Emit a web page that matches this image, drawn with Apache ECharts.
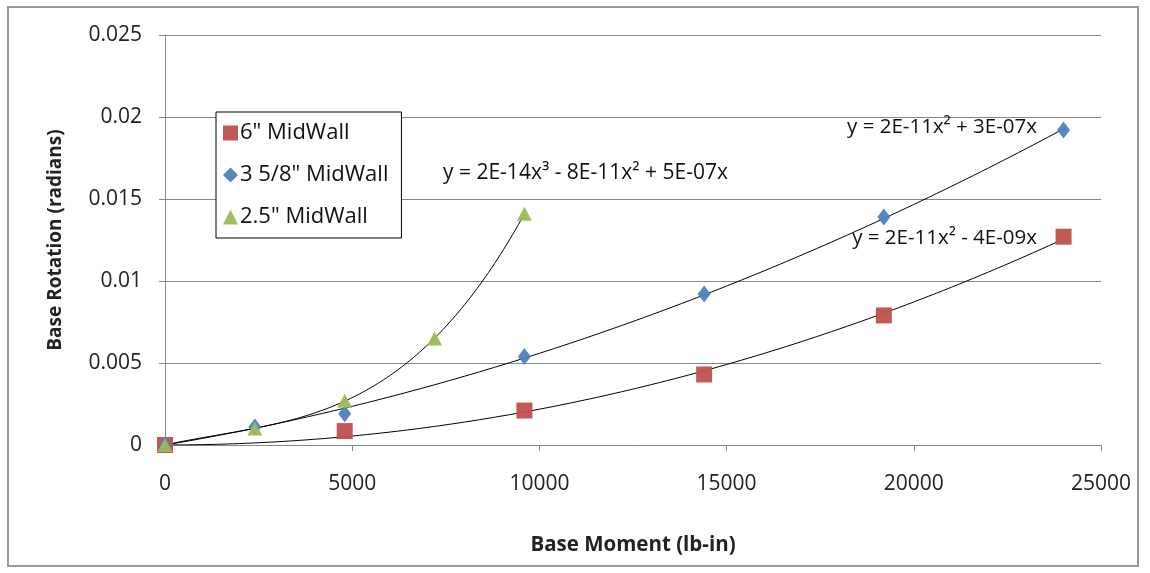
<!DOCTYPE html>
<html>
<head>
<meta charset="utf-8">
<script src="https://cdn.jsdelivr.net/npm/echarts@6/dist/echarts.min.js"></script>
<style>html,body{margin:0;padding:0;background:#fff}#c{width:1150px;height:573px}</style>
</head>
<body>
<div id="c"></div>
<script>
// ---- data ----
const seriesNames = ['6" MidWall', '3 5/8" MidWall', '2.5" MidWall'];
const x6 = [0, 4800, 9600, 14400, 19200, 24000];
const y6 = [0, 0.00085, 0.0021, 0.0043, 0.0079, 0.0127];
const x358 = [0, 2400, 4800, 9600, 14400, 19200, 24000];
const y358 = [0, 0.0011, 0.0019, 0.0054, 0.0092, 0.0139, 0.0192];
const x25 = [0, 2400, 4800, 7200, 9600];
const y25 = [0, 0.0010, 0.0027, 0.0065, 0.0141];
const trendDegrees = [2, 2, 3];
const trendLabels = ['y = 2E-11x\u00B2 - 4E-09x', 'y = 2E-11x\u00B2 + 3E-07x', 'y = 2E-14x\u00B3 - 8E-11x\u00B2 + 5E-07x'];
const xTicks = [0, 5000, 10000, 15000, 20000, 25000];
const yTicks = [0, 0.005, 0.01, 0.015, 0.02, 0.025];

// least-squares polynomial fit through origin (trendline, as in the source chart)
function fitThroughOrigin(xs, ys, deg) {
  const s = 1000;
  const n = deg;
  const A = Array.from({length: n}, () => new Array(n + 1).fill(0));
  for (let k = 0; k < xs.length; k++) {
    const x = xs[k] / s;
    const b = [];
    for (let i = 1; i <= n; i++) b.push(Math.pow(x, i));
    for (let i = 0; i < n; i++) {
      for (let j = 0; j < n; j++) A[i][j] += b[i] * b[j];
      A[i][n] += b[i] * ys[k];
    }
  }
  for (let i = 0; i < n; i++) {
    let p = i;
    for (let r = i + 1; r < n; r++) if (Math.abs(A[r][i]) > Math.abs(A[p][i])) p = r;
    [A[i], A[p]] = [A[p], A[i]];
    for (let r = 0; r < n; r++) {
      if (r === i) continue;
      const f = A[r][i] / A[i][i];
      for (let c = i; c <= n; c++) A[r][c] -= f * A[i][c];
    }
  }
  const coef = A.map((row, i) => row[n] / row[i]);
  return x => coef.reduce((acc, c, i) => acc + c * Math.pow(x / s, i + 1), 0);
}
function trend(xs, ys, deg) {
  const f = fitThroughOrigin(xs, ys, deg);
  const xmax = Math.max(...xs);
  const pts = [];
  const steps = 120;
  for (let i = 0; i <= steps; i++) {
    const x = xmax * i / steps;
    pts.push([x, f(x)]);
  }
  return pts;
}
const pairs = (xs, ys) => xs.map((x, i) => [x, ys[i]]);

const FONT = 'Open Sans';
const colors = ['#C0504D', '#4F81BD', '#9BBB59'];
const symbols = ['rect', 'diamond', 'triangle'];
const sizes = [[16, 16], [13, 17], [15, 14]];
const dataSets = [[x6, y6], [x358, y358], [x25, y25]];

const series = [];
dataSets.forEach((d, i) => {
  series.push({
    name: seriesNames[i] + ' trend', type: 'line', data: trend(d[0], d[1], trendDegrees[i]),
    showSymbol: false, silent: true, smooth: false,
    lineStyle: {color: '#000', width: 1}, z: 2
  });
});
dataSets.forEach((d, i) => {
  series.push({
    name: seriesNames[i], type: 'scatter', data: pairs(d[0], d[1]),
    symbol: symbols[i], symbolSize: sizes[i],
    itemStyle: {color: colors[i], opacity: 0.95}, z: 3
  });
});

const chart = echarts.init(document.getElementById('c'));
chart.setOption({
  animation: false,
  backgroundColor: '#fff',
  grid: {left: 165, right: 49, top: 35, bottom: 128},
  xAxis: {
    type: 'value', min: xTicks[0], max: xTicks[xTicks.length - 1], interval: 5000,
    name: 'Base Moment (lb-in)', nameLocation: 'middle', nameGap: 90,
    nameTextStyle: {fontFamily: FONT, fontWeight: 'bold', fontSize: 20.5, color: '#222'},
    axisLine: {lineStyle: {color: '#868686'}},
    axisTick: {show: true, length: 6, lineStyle: {color: '#868686'}},
    axisLabel: {fontFamily: FONT, fontSize: 21, color: '#222', margin: 29, formatter: v => String(v)},
    splitLine: {show: false}
  },
  yAxis: {
    type: 'value', min: yTicks[0], max: yTicks[yTicks.length - 1], interval: 0.005,
    name: 'Base Rotation (radians)', nameLocation: 'middle', nameGap: 100,
    nameTextStyle: {fontFamily: FONT, fontWeight: 'bold', fontSize: 19, color: '#222'},
    axisLine: {show: true, lineStyle: {color: '#868686'}},
    axisTick: {show: true, length: 6, lineStyle: {color: '#868686'}},
    axisLabel: {fontFamily: FONT, fontSize: 21, color: '#222', margin: 23, formatter: v => String(v)},
    splitLine: {show: true, lineStyle: {color: '#868686', width: 1}}
  },
  legend: {
    data: seriesNames.map((n, i) => ({name: n, icon: symbols[i]})),
    orient: 'vertical', left: 216, top: 112,
    backgroundColor: '#fff', borderColor: '#000', borderWidth: 1,
    padding: [10, 13, 10, 7], itemGap: 20, itemWidth: 15, itemHeight: 15,
    textStyle: {fontFamily: FONT, fontSize: 22, color: '#111', padding: [0, 0, 0, -3]}
  },
  graphic: [
    {type: 'rect', shape: {x: 8, y: 7, width: 1130, height: 559}, style: {fill: 'none', stroke: '#999', lineWidth: 2}, silent: true, z: -10},
    {type: 'text', right: 1150 - 1037, top: 117, style: {text: trendLabels[1], fontFamily: FONT, fontSize: 20.5, fill: '#111'}, z: 10},
    {type: 'text', right: 1150 - 1037, top: 228, style: {text: trendLabels[0], fontFamily: FONT, fontSize: 20.5, fill: '#111'}, z: 10},
    {type: 'text', left: 443, top: 163, style: {text: trendLabels[2], fontFamily: FONT, fontSize: 21, fill: '#111'}, z: 10}
  ],
  series: series
});
</script>
</body>
</html>
